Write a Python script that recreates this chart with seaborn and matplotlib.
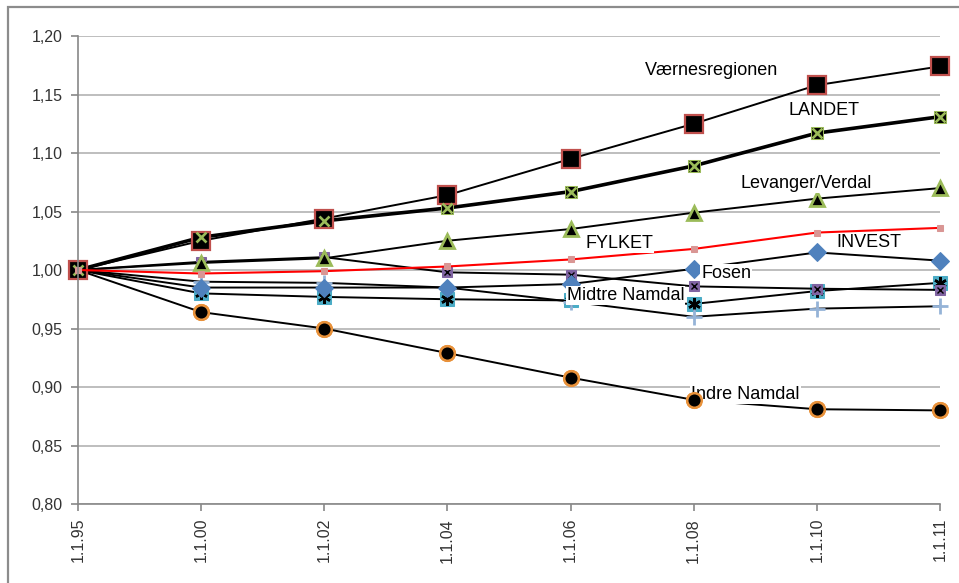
import numpy as np
import seaborn as sns
import matplotlib.pyplot as plt
from matplotlib.ticker import FuncFormatter
from matplotlib.patches import Rectangle

sns.set_style('white')
plt.rcParams['font.family'] = ['Liberation Sans', 'DejaVu Sans']

dates = ['1.1.95', '1.1.00', '1.1.02', '1.1.04', '1.1.06', '1.1.08', '1.1.10', '1.1.11']

vaernes = [1.000, 1.025, 1.044, 1.064, 1.095, 1.125, 1.158, 1.174]
landet = [1.000, 1.028, 1.042, 1.053, 1.067, 1.089, 1.117, 1.131]
levanger = [1.000, 1.006, 1.010, 1.025, 1.035, 1.049, 1.061, 1.070]
fylket = [1.000, 0.997, 0.999, 1.003, 1.009, 1.018, 1.032, 1.036]
fosen = [1.000, 0.985, 0.985, 0.985, 0.988, 1.001, 1.015, 1.008]
invest = [1.000, 1.007, 1.011, 0.998, 0.996, 0.986, 0.984, 0.983]
midtre = [1.000, 0.990, 0.989, 0.985, 0.973, 0.960, 0.967, 0.969]
namdal = [1.000, 0.980, 0.977, 0.975, 0.974, 0.971, 0.982, 0.989]
indre = [1.000, 0.964, 0.950, 0.929, 0.908, 0.889, 0.881, 0.880]

labels = ['Værnesregionen', 'LANDET', 'Levanger/Verdal', 'FYLKET', 'INVEST',
          'Fosen', 'Midtre Namdal', 'Indre Namdal']
label_x = [4.60, 5.77, 5.38, 4.12, 6.16, 5.06, 3.97, 4.98]
label_y = [1.167, 1.1325, 1.070, 1.0185, 1.0194, 0.993, 0.9744, 0.8897]

fig = plt.figure(figsize=(9.59, 5.83), dpi=100)
ax = fig.add_axes([78 / 959, 1 - 504 / 583, (940 - 78) / 959, (504 - 36) / 583])
x = np.arange(len(dates))


def draw(values, xs=x, **kw):
    # one series, no legend, markers allowed to spill over the right edge
    sns.lineplot(x=xs, y=values, ax=ax, clip_on=False, **kw)


line = dict(color='black', linewidth=1.4)
nol = dict(linestyle='none')
circle = dict(marker='o', markersize=10.5, markerfacecolor='black',
              markeredgecolor='#e8913a', markeredgewidth=1.8)

draw(indre, **circle, **line)
draw(namdal, marker='s', markersize=10, markerfacecolor='#4bacc6',
     markeredgecolor='#4bacc6', **line)
draw(namdal, marker=(6, 2, 0), markersize=9, color='black',
     markeredgecolor='black', markeredgewidth=1.8, **nol)
draw(midtre, marker='+', markersize=11, markeredgewidth=2,
     markeredgecolor='#95b3d7', **line)
draw(invest, marker='s', markersize=6.5, markerfacecolor='#8064a2',
     markeredgecolor='#8064a2', **line)
draw(invest, marker='x', markersize=4, color='black',
     markeredgecolor='black', markeredgewidth=1, **nol)
draw(fosen, marker='D', markersize=9, markerfacecolor='#4f81bd',
     markeredgecolor='#4f81bd', **line)
draw(levanger, marker='^', markersize=10.5, markerfacecolor='black',
     markeredgecolor='#9bbb59', markeredgewidth=2, **line)
draw(landet, marker='s', markersize=8.5, markerfacecolor='black',
     markeredgecolor='#9bbb59', color='black', linewidth=2.6)
draw(vaernes, marker='s', markersize=12.5, markerfacecolor='black',
     markeredgecolor='#c0504d', markeredgewidth=1.6, **line)
# the green crosses of LANDET show on top of the Værnes squares
draw(landet, marker='x', markersize=7.5, color='#9bbb59',
     markeredgecolor='#9bbb59', markeredgewidth=1.9, **nol)
draw(fylket, marker='s', markersize=4, markerfacecolor='#d99694',
     markeredgecolor='#d99694', color='red', linewidth=1.5)

for txt, tx, ty in zip(labels, label_x, label_y):
    ax.text(tx, ty, txt, fontsize=13, color='black', ha='left', va='baseline',
            zorder=5, bbox=dict(boxstyle='square,pad=0.05', fc='white', ec='none'))

# circle markers sit on top of the "Indre Namdal" text box
draw(indre[1:], xs=x[1:], zorder=6, **circle, **nol)

ax.set_xlim(0, len(dates) - 1)
ax.set_ylim(0.80, 1.20)
ax.set_yticks(np.arange(0.80, 1.2001, 0.05))
ax.yaxis.set_major_formatter(FuncFormatter(lambda v, p: f'{v:.2f}'.replace('.', ',')))
ax.set_xticks(x)
ax.set_xticklabels(dates, rotation=90)
ax.set_xlabel('')
ax.set_ylabel('')

ax.yaxis.grid(True, color='#b3b3b3', linewidth=1.2)
ax.set_axisbelow(True)
for side in ['top', 'right']:
    ax.spines[side].set_visible(False)
for side in ['left', 'bottom']:
    ax.spines[side].set_color('#888888')
    ax.spines[side].set_linewidth(1.2)
ax.tick_params(axis='both', bottom=True, left=True, colors='#888888', length=5,
               width=1.2, labelcolor='#333333', labelsize=11.5)
ax.tick_params(axis='x', pad=5)
ax.tick_params(axis='y', pad=6)

# chart-area frame, only left and top edges are visible in the picture
fig.add_artist(Rectangle((8 / 959, -0.1), 1.2, 1 - 7.5 / 583 + 0.1,
                         transform=fig.transFigure, fill=False,
                         edgecolor='#8c8c8c', linewidth=1.6))

fig.savefig('out.png', dpi=100)
